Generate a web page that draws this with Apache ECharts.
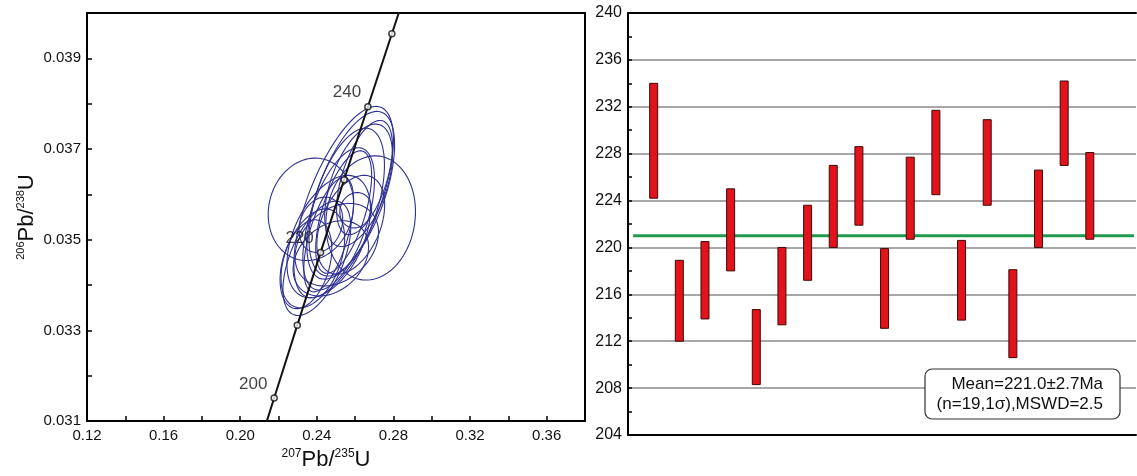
<!DOCTYPE html>
<html><head><meta charset="utf-8">
<script src="https://cdn.jsdelivr.net/npm/echarts@6/dist/echarts.min.js"></script>
<style>html,body{margin:0;padding:0;background:#fff}#c{width:1137px;height:476px}</style>
</head><body><div id="c"></div>
<script>
// ---------- Left panel: concordia diagram ----------
const concordiaAge = [190, 200, 210, 220, 230, 240, 250, 260];
const concordiaX = [0.20577, 0.21771, 0.22976, 0.24193, 0.25422, 0.26664, 0.27917, 0.29183];
const concordiaY = [0.029912, 0.031511, 0.033112, 0.034716, 0.036323, 0.037932, 0.039543, 0.041157];
const markerAges = [200, 210, 220, 230, 240, 250];
const labeledAges = [200, 220, 240];

// error ellipses: centre, half-widths, correlation
const ellX   = [0.2540, 0.2577, 0.2556, 0.2369, 0.2681, 0.2400, 0.2379, 0.2462, 0.2514, 0.2603, 0.2421, 0.2504, 0.2618, 0.2343, 0.2540, 0.2473, 0.2577, 0.2649, 0.2462];
const ellY   = [0.03583, 0.03598, 0.03583, 0.03567, 0.03548, 0.03459, 0.03459, 0.03507, 0.03546, 0.03565, 0.03533, 0.03489, 0.03620, 0.03446, 0.03561, 0.03459, 0.03533, 0.03637, 0.03511];
const ellSx  = [0.0260, 0.0229, 0.0197, 0.0223, 0.0234, 0.0177, 0.0166, 0.0218, 0.0187, 0.0083, 0.0114, 0.0218, 0.0177, 0.0135, 0.0146, 0.0197, 0.0177, 0.0146, 0.0130];
const ellSy  = [0.00211, 0.00185, 0.00163, 0.00113, 0.00137, 0.00126, 0.00109, 0.00135, 0.00157, 0.00039, 0.00061, 0.00091, 0.00135, 0.00098, 0.00135, 0.00083, 0.00109, 0.00126, 0.00126];
const ellRho = [0.65, 0.60, 0.50, 0.10, 0.10, 0.55, 0.40, 0.45, 0.55, 0.10, 0.20, 0.30, 0.50, 0.35, 0.60, 0.30, 0.40, 0.55, 0.60];

// ---------- Right panel: weighted mean plot ----------
const spotLow  = [224.2, 212.0, 213.9, 218.0, 208.3, 213.4, 217.2, 220.0, 221.9, 213.1, 220.7, 224.5, 213.8, 223.6, 210.6, 220.0, 227.0, 220.7];
const spotHigh = [234.0, 218.9, 220.5, 225.0, 214.7, 220.0, 223.6, 227.0, 228.6, 219.9, 227.7, 231.7, 220.6, 230.9, 218.1, 226.6, 234.2, 228.1];
const meanAge = 221.0, meanErr = 2.7, nSpots = 19, mswd = 2.5;

const FONT = '"Liberation Sans", Arial, sans-serif';

const ellData = ellX.map((x, i) => [x, ellY[i], ellSx[i], ellSy[i], ellRho[i]]);
const concData = concordiaX.map((x, i) => [x, concordiaY[i], concordiaAge[i]]);
const markData = concData.filter(d => markerAges.includes(d[2]));
const barData = spotLow.map((lo, i) => [i + 1, lo, spotHigh[i]]);

const chart = echarts.init(document.getElementById('c'), null, {renderer: 'canvas'});
chart.setOption({
  animation: false,
  backgroundColor: '#fff',
  textStyle: {fontFamily: FONT},
  grid: [
    {left: 87, top: 13, width: 498, height: 414, show: true, borderColor: '#000', borderWidth: 2, backgroundColor: 'transparent'},
    {left: 628, top: 13, width: 508, height: 422}
  ],
  xAxis: [
    {
      gridIndex: 0, type: 'value', min: 0.12, max: 0.38, interval: 0.02,
      axisLine: {show: true, lineStyle: {color: '#000', width: 2}},
      axisTick: {show: true, inside: true, length: 5, lineStyle: {color: '#000', width: 1.5}},
      splitLine: {show: false},
      axisLabel: {
        fontSize: 15, color: '#111', margin: 7, fontFamily: FONT,
        formatter: v => (Math.round(v * 100) % 4 === 0 ? v.toFixed(2) : '')
      },
      name: '{sup|207}{main|Pb/}{sup|235}{main|U}',
      nameLocation: 'middle', nameGap: 18,
      nameTextStyle: {
        padding: [0, 20, 0, 0],
        rich: {
          main: {fontSize: 22, color: '#111', fontFamily: FONT, lineHeight: 24},
          sup: {fontSize: 12, color: '#111', fontFamily: FONT, lineHeight: 14, verticalAlign: 'top'}
        }
      }
    },
    {
      gridIndex: 1, type: 'value', min: 0, max: 19.8,
      axisLine: {show: true, onZero: false, lineStyle: {color: '#000', width: 2}},
      axisTick: {show: false}, axisLabel: {show: false}, splitLine: {show: false}
    },
    {
      gridIndex: 1, type: 'value', min: 0, max: 19.8, position: 'top',
      axisLine: {show: true, onZero: false, lineStyle: {color: '#000', width: 2}},
      axisTick: {show: false}, axisLabel: {show: false}, splitLine: {show: false}
    }
  ],
  yAxis: [
    {
      gridIndex: 0, type: 'value', min: 0.031, max: 0.040, interval: 0.001,
      axisLine: {show: true, onZero: false, lineStyle: {color: '#000', width: 2}},
      axisTick: {show: true, inside: true, length: 5, lineStyle: {color: '#000', width: 1.5}},
      splitLine: {show: false},
      axisLabel: {
        fontSize: 15, color: '#111', margin: 6, fontFamily: FONT,
        formatter: v => (Math.round(v * 1000) % 2 === 1 ? v.toFixed(3) : '')
      },
      name: '{sup|206}{main|Pb/}{sup|238}{main|U}',
      nameLocation: 'middle', nameGap: 48, nameRotate: 90,
      nameTextStyle: {
        rich: {
          main: {fontSize: 22, color: '#111', fontFamily: FONT, lineHeight: 24},
          sup: {fontSize: 11, color: '#111', fontFamily: FONT, lineHeight: 13, verticalAlign: 'top'}
        }
      }
    },
    {
      gridIndex: 1, type: 'value', min: 204, max: 240, interval: 4,
      axisLine: {show: true, onZero: false, lineStyle: {color: '#000', width: 2}},
      axisTick: {show: true, inside: true, length: 4, lineStyle: {color: '#000', width: 1.5}},
      minorTick: {show: true, splitNumber: 2, length: 4, lineStyle: {color: '#000', width: 1.5}},
      splitLine: {show: true, lineStyle: {color: '#8a8a8a', width: 1.5}},
      axisLabel: {fontSize: 16, color: '#111', margin: 6, fontFamily: FONT}
    }
  ],
  series: [
    {
      type: 'custom', xAxisIndex: 0, yAxisIndex: 0, clip: true, z: 2,
      data: ellData,
      encode: {x: 0, y: 1},
      renderItem: function (params, api) {
        const cx = api.value(0), cy = api.value(1), sx = api.value(2), sy = api.value(3), r = api.value(4);
        const k = Math.sqrt(1 - r * r);
        const pts = [];
        for (let i = 0; i < 100; i++) {
          const t = i / 100 * 2 * Math.PI;
          pts.push(api.coord([cx + sx * Math.cos(t), cy + sy * (r * Math.cos(t) + k * Math.sin(t))]));
        }
        return {type: 'polygon', shape: {points: pts}, style: {fill: 'none', stroke: '#2e3192', lineWidth: 1.1}};
      }
    },
    {
      type: 'line', xAxisIndex: 0, yAxisIndex: 0, clip: true, z: 3,
      data: concData, showSymbol: false, smooth: false,
      lineStyle: {color: '#111', width: 2}
    },
    {
      type: 'scatter', xAxisIndex: 0, yAxisIndex: 0, z: 4,
      data: markData, symbol: 'circle', symbolSize: 6,
      itemStyle: {color: '#fff', borderColor: '#111', borderWidth: 1.5},
      label: {
        show: true, position: 'left', distance: 3, offset: [0, -14],
        fontSize: 17, color: '#111', fontFamily: FONT,
        formatter: p => (labeledAges.includes(p.data[2]) ? String(p.data[2]) : '')
      }
    },
    {
      type: 'line', xAxisIndex: 1, yAxisIndex: 1, z: 2,
      data: [[0.2, meanAge], [19.72, meanAge]], showSymbol: false,
      lineStyle: {color: '#1f9a4c', width: 3}
    },
    {
      type: 'custom', xAxisIndex: 1, yAxisIndex: 1, z: 3,
      data: barData, encode: {x: 0, y: [1, 2]},
      renderItem: function (params, api) {
        const x = api.value(0), lo = api.value(1), hi = api.value(2);
        const p1 = api.coord([x, hi]), p2 = api.coord([x, lo]);
        const w = 8;
        return {type: 'rect', shape: {x: p1[0] - w / 2, y: p1[1], width: w, height: p2[1] - p1[1]},
          style: {fill: '#e3131b', stroke: '#3d0a0a', lineWidth: 1}};
      }
    }
  ],
  graphic: [
    {type: 'rect', z: 100, shape: {x: 925, y: 369, width: 195, height: 50, r: 7},
      style: {fill: '#ffffff', stroke: '#333', lineWidth: 1.2}},
    {type: 'text', z: 101, x: 1103, y: 384,
      style: {text: 'Mean=' + meanAge.toFixed(1) + '±' + meanErr.toFixed(1) + 'Ma', align: 'right', verticalAlign: 'middle',
        font: '17px ' + FONT, fill: '#111'}},
    {type: 'text', z: 101, x: 1103, y: 404,
      style: {text: '(n=' + nSpots + ',1σ),MSWD=' + mswd.toFixed(1), align: 'right', verticalAlign: 'middle',
        font: '17px ' + FONT, fill: '#111'}}
  ]
});
</script>
</body></html>
